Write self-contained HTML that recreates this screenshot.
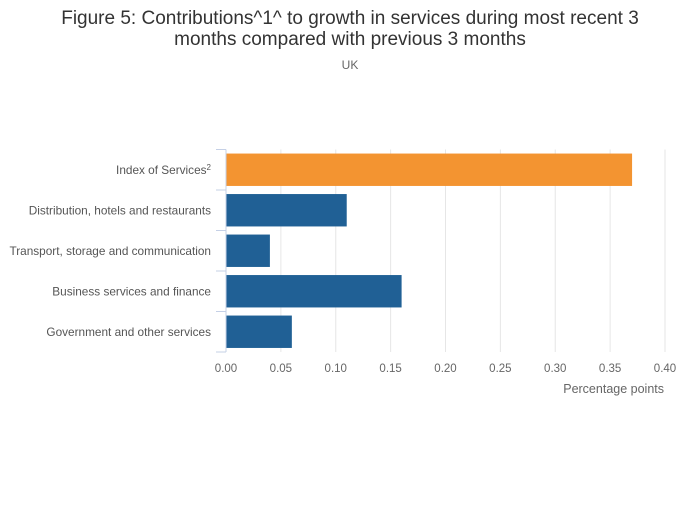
<!DOCTYPE html>
<html><head><meta charset="utf-8"><style>
body{margin:0;background:#fff;font-family:"Liberation Sans",sans-serif;}
svg text{font-family:"Liberation Sans",sans-serif;}
</style></head><body>
<svg width="700" height="502" viewBox="0 0 700 502">
<text x="350" y="24" text-anchor="middle" font-size="19" fill="#333">Figure 5: Contributions^1^ to growth in services during most recent 3</text>
<text x="350" y="45" text-anchor="middle" font-size="19" fill="#333">months compared with previous 3 months</text>
<text x="350" y="69" text-anchor="middle" font-size="12" fill="#666">UK</text>
<g id="grid"></g>
<g id="bars"></g>
<g id="yaxis"></g>
<g id="xaxis"></g>
<text x="664" y="393" text-anchor="end" font-size="12.5" fill="#666">Percentage points</text>
</svg>
<script>
const categories=["Index of Services","Distribution, hotels and restaurants","Transport, storage and communication","Business services and finance","Government and other services"];
const values=[0.37,0.11,0.04,0.16,0.06];
const colors=["#f39431","#206095","#206095","#206095","#206095"];
const ticks=[0,0.05,0.1,0.15,0.2,0.25,0.3,0.35,0.4];
const tickLabels=["0.00","0.05","0.10","0.15","0.20","0.25","0.30","0.35","0.40"];
const NS="http://www.w3.org/2000/svg";
const x0=226,x1=665,yTop=149.5,yBot=352;
const band=(yBot-yTop)/categories.length;
const xs=v=>x0+(v/0.4)*(x1-x0);
function mk(t,a,p){const e=document.createElementNS(NS,t);for(const k in a)e.setAttribute(k,a[k]);document.getElementById(p).appendChild(e);return e;}
ticks.forEach((t,i)=>{
 if(i>0){const g=mk("line",{x1:xs(t),x2:xs(t),y1:yTop,y2:yBot,stroke:"#e6e6e6","stroke-width":1},"grid");
 
 }
 const l=mk("text",{x:xs(t),y:372,"text-anchor":"middle","font-size":"11.5",fill:"#666"},"xaxis");
 l.textContent=tickLabels[i];
 
 
});
const ax=mk("line",{x1:x0,x2:x0,y1:yTop,y2:yBot,stroke:"#c5d0e6","stroke-width":1},"yaxis");


for(let i=0;i<=categories.length;i++){
 const tk=mk("line",{x1:216,x2:x0,y1:yTop+i*band,y2:yTop+i*band,stroke:"#c5d0e6","stroke-width":1},"yaxis");
 
 
}
categories.forEach((c,i)=>{
 const cy=yTop+band*(i+0.5);
 const r=mk("rect",{x:x0,y:cy-band*0.4,width:xs(values[i])-x0,height:band*0.8,fill:colors[i]},"bars");
 
 
 const t=mk("text",{x:211,y:cy+4,"text-anchor":"end","font-size":"11.8",fill:"#555"},"yaxis");
 t.textContent=c;
 if(i===0){const s=document.createElementNS(NS,"tspan");s.setAttribute("dy","-4");s.setAttribute("font-size","8");s.textContent="2";t.appendChild(s);}
 
 
});
</script>
</body></html>
